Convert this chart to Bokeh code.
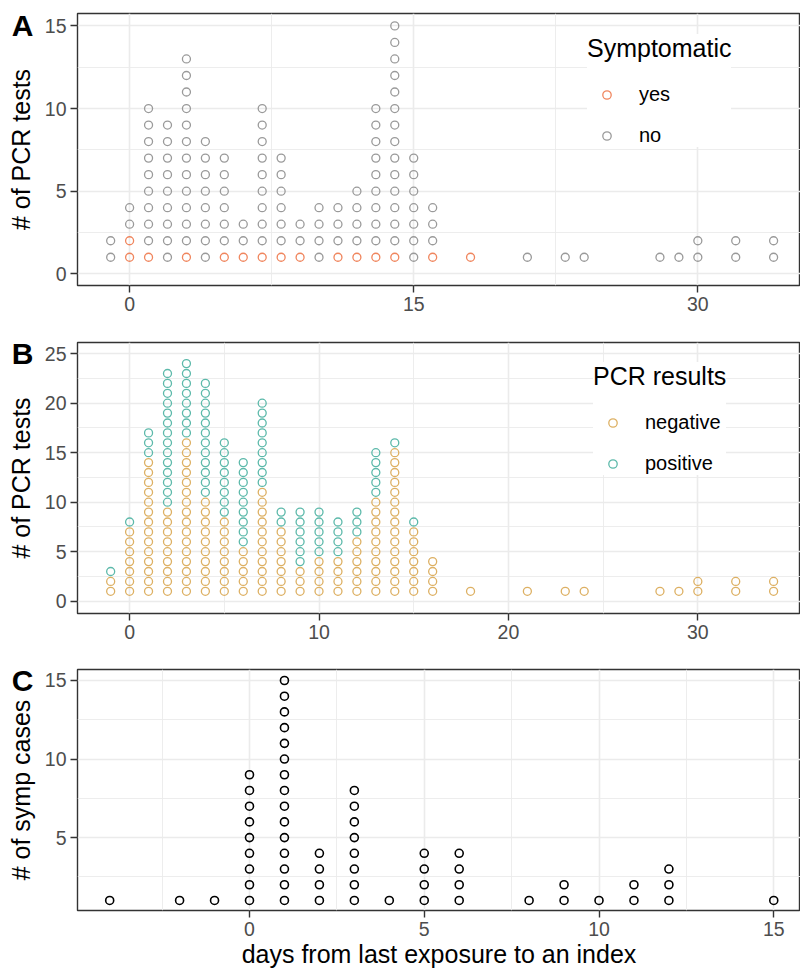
from bokeh.plotting import figure
from bokeh.models import (Range1d, FixedTicker, Legend, LegendItem, LinearAxis,
                          ColumnDataSource)
from bokeh.layouts import column
from bokeh.embed import file_html
from bokeh.resources import INLINE

FONT = "Liberation Sans"

# ---------------- data ----------------
days_ab = [-1, 0, 1, 2, 3, 4, 5, 6, 7, 8, 9, 10, 11, 12, 13, 14, 15, 16,
           18, 21, 23, 24, 28, 29, 30, 32, 34]
symp_yes = [0, 2, 1, 0, 1, 0, 1, 1, 1, 1, 1, 0, 1, 1, 1, 1, 0, 1,
            1, 0, 0, 0, 0, 0, 0, 0, 0]
symp_no = [2, 2, 9, 9, 12, 8, 6, 2, 9, 6, 2, 4, 3, 4, 9, 14, 7, 3,
           0, 1, 1, 1, 1, 1, 2, 2, 2]
pcr_neg = [2, 7, 14, 9, 16, 10, 8, 5, 11, 7, 3, 4, 4, 6, 10, 15, 7, 4,
           1, 1, 1, 1, 1, 1, 2, 2, 2]
pcr_pos = [1, 1, 3, 14, 8, 12, 8, 9, 9, 2, 6, 5, 4, 3, 5, 1, 1, 0,
           0, 0, 0, 0, 0, 0, 0, 0, 0]
days_c = [-4, -2, -1, 0, 1, 2, 3, 4, 5, 6, 8, 9, 10, 11, 12, 15]
symp_cases = [1, 1, 1, 9, 15, 4, 8, 1, 4, 4, 1, 2, 1, 2, 3, 1]

legend_a_title = "Symptomatic"
legend_a_labels = ["yes", "no"]
legend_b_title = "PCR results"
legend_b_labels = ["negative", "positive"]

C_YES = "#F0865E"
C_NO = "#9A9A9A"
C_NEG = "#DDB063"
C_POS = "#5CB9AA"


def stack(days, lower, upper):
    lx, ly, ux, uy = [], [], [], []
    for d, a, b in zip(days, lower, upper):
        for k in range(1, a + 1):
            lx.append(d); ly.append(k)
        for k in range(a + 1, a + b + 1):
            ux.append(d); uy.append(k)
    return (ColumnDataSource(dict(x=lx, y=ly)), ColumnDataSource(dict(x=ux, y=uy)))


def make_fig(xr, yr, fh, top, bottom):
    p = figure(frame_width=723, frame_height=fh, x_range=Range1d(*xr), y_range=Range1d(*yr),
               output_backend="svg", toolbar_location=None,
               min_border_left=77, min_border_right=0, min_border_top=top, min_border_bottom=bottom)
    p.background_fill_color = "white"
    p.border_fill_color = "white"
    p.outline_line_color = "#333333"
    p.outline_line_width = 1.4
    return p


def style(p, xt, xm, yt, ym, ylabel, letter, letter_at, xlabel=None):
    xtk = FixedTicker(ticks=xt, minor_ticks=xm)
    ytk = FixedTicker(ticks=yt, minor_ticks=ym)
    xax = p.xaxis[0]
    yax = p.yaxis[0]
    xax.ticker = xtk
    yax.ticker = ytk
    p.xgrid.ticker = xtk
    p.ygrid.ticker = ytk
    for g in (p.xgrid, p.ygrid):
        g.grid_line_color = "#EBEBEB"
        g.grid_line_width = 1.6
        g.minor_grid_line_color = "#EBEBEB"
        g.minor_grid_line_width = 0.9
    for ax in (xax, yax):
        ax.axis_line_color = None
        ax.major_tick_in = 0
        ax.major_tick_out = 7
        ax.major_tick_line_color = "#333333"
        ax.major_tick_line_width = 1.4
        ax.minor_tick_line_color = None
        ax.major_label_text_font = FONT
        ax.major_label_text_font_size = "19.5px"
        ax.major_label_text_color = "#4D4D4D"
        ax.major_label_standoff = 4
        ax.axis_label_text_font = FONT
        ax.axis_label_text_font_size = "25px"
        ax.axis_label_text_font_style = "normal"
        ax.axis_label_text_color = "black"
    if xlabel:
        xax.axis_label = xlabel
        xax.axis_label_standoff = 1
    # outer left axis: carries the panel tag (as its one tick label) and the y title
    tag = LinearAxis(ticker=FixedTicker(ticks=[letter_at], minor_ticks=[]),
                     major_label_overrides={letter_at: letter},
                     axis_line_color=None, major_tick_line_color=None, minor_tick_line_color=None,
                     major_tick_in=0, major_tick_out=0, major_label_standoff=8,
                     major_label_text_font=FONT, major_label_text_font_size="30px",
                     major_label_text_font_style="bold", major_label_text_color="black",
                     axis_label=ylabel, axis_label_standoff=-26,
                     axis_label_text_font=FONT, axis_label_text_font_size="25px",
                     axis_label_text_font_style="normal", axis_label_text_color="black")
    p.add_layout(tag, "left")


def make_legend(p, title, items, loc):
    lg = Legend(items=items, title=title, location=loc,
                title_text_font=FONT, title_text_font_size="25px", title_text_font_style="normal",
                title_text_color="black", title_standoff=20,
                label_text_font=FONT, label_text_font_size="20px", label_text_color="black",
                glyph_width=39, glyph_height=21, label_height=21, spacing=18, label_standoff=13,
                padding=12, margin=0, background_fill_color="white", background_fill_alpha=1.0,
                border_line_color=None)
    p.add_layout(lg)


# ---------------- panel A ----------------
pA = make_fig((-2.751, 35.42), (-0.708, 15.75), 272, 13, 37)
sa_yes, sa_no = stack(days_ab, symp_yes, symp_no)
r_yes = pA.scatter("x", "y", source=sa_yes, marker="circle", size=8, fill_color=None,
                   line_color=C_YES, line_width=1.3)
r_no = pA.scatter("x", "y", source=sa_no, marker="circle", size=8, fill_color=None,
                  line_color=C_NO, line_width=1.3)
style(pA, [0, 15, 30], [7.5, 22.5], [0, 5, 10, 15], [2.5, 7.5, 12.5], "# of PCR tests", "A", 15)
make_legend(pA, legend_a_title, [LegendItem(label=legend_a_labels[0], renderers=[r_yes]),
                                 LegendItem(label=legend_a_labels[1], renderers=[r_no])], (510, 138))

# ---------------- panel B ----------------
pB = make_fig((-2.751, 35.42), (-1.24, 26.13), 271, 20, 36)
sb_neg, sb_pos = stack(days_ab, pcr_neg, pcr_pos)
r_neg = pB.scatter("x", "y", source=sb_neg, marker="circle", size=8, fill_color=None,
                   line_color=C_NEG, line_width=1.3)
r_pos = pB.scatter("x", "y", source=sb_pos, marker="circle", size=8, fill_color=None,
                   line_color=C_POS, line_width=1.3)
style(pB, [0, 10, 20, 30], [5, 15, 25], [0, 5, 10, 15, 20, 25],
      [2.5, 7.5, 12.5, 17.5, 22.5], "# of PCR tests", "B", 25)
make_legend(pB, legend_b_title, [LegendItem(label=legend_b_labels[0], renderers=[r_neg]),
                                 LegendItem(label=legend_b_labels[1], renderers=[r_pos])], (516, 137.6))

# ---------------- panel C ----------------
pC = make_fig((-4.921, 15.765), (0.36, 15.70), 241, 20, 62)
sc, _ = stack(days_c, symp_cases, [0] * len(days_c))
pC.scatter("x", "y", source=sc, marker="circle", size=8, fill_color=None,
           line_color="black", line_width=1.6)
style(pC, [0, 5, 10, 15], [-2.5, 2.5, 7.5, 12.5], [5, 10, 15], [2.5, 7.5, 12.5],
      "# of symp cases", "C", 15, "days from last exposure to an index")

layout = column(pA, pB, pC, spacing=0)
open("out.html", "w").write(file_html(layout, INLINE))
